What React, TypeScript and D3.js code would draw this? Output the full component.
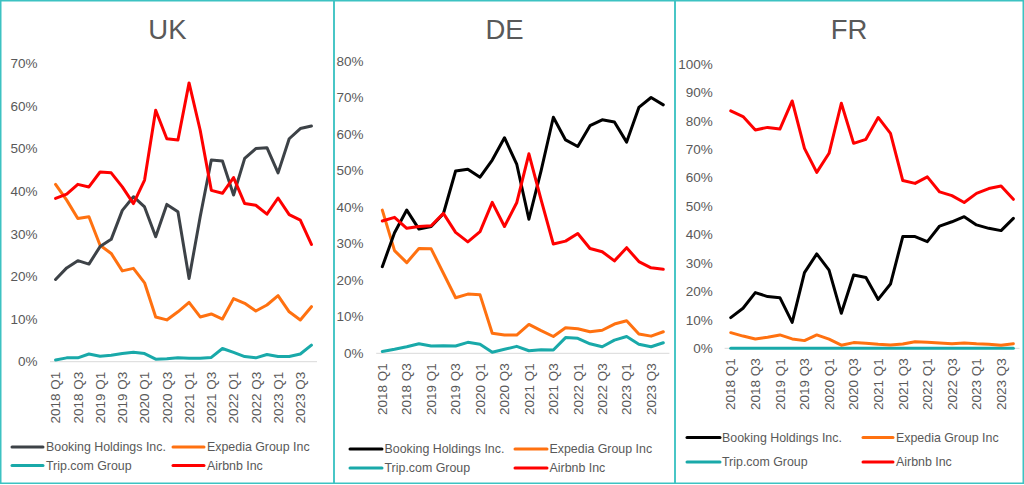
import React from "react";
import * as d3 from "d3";

// ---------- DATA ----------
const quarters = [
  "2018 Q1", "2018 Q2", "2018 Q3", "2018 Q4",
  "2019 Q1", "2019 Q2", "2019 Q3", "2019 Q4",
  "2020 Q1", "2020 Q2", "2020 Q3", "2020 Q4",
  "2021 Q1", "2021 Q2", "2021 Q3", "2021 Q4",
  "2022 Q1", "2022 Q2", "2022 Q3", "2022 Q4",
  "2023 Q1", "2023 Q2", "2023 Q3", "2023 Q4",
];
const tickQuarters = quarters.filter((q) => q.endsWith("Q1") || q.endsWith("Q3"));

const seriesNames = ["Booking Holdings Inc.", "Expedia Group Inc", "Trip.com Group", "Airbnb Inc"];

// UK (% share)
const ukBooking = [19.3, 22.0, 23.7, 22.9, 27.0, 28.7, 35.5, 38.7, 36.3, 29.3, 36.9, 35.2, 19.5, 34.0, 47.3, 47.1, 39.1, 47.7, 50.0, 50.2, 44.3, 52.3, 54.7, 55.3];
const ukExpedia = [41.6, 37.9, 33.6, 34.0, 27.3, 25.4, 21.3, 21.9, 18.5, 10.5, 9.8, 11.7, 13.9, 10.5, 11.2, 10.0, 14.8, 13.7, 11.9, 13.3, 15.5, 11.7, 9.8, 12.9];
const ukTrip = [0.4, 0.9, 0.9, 1.8, 1.3, 1.5, 1.9, 2.2, 1.9, 0.6, 0.7, 0.9, 0.8, 0.8, 1.0, 3.1, 2.2, 1.2, 0.9, 1.7, 1.2, 1.2, 1.8, 3.9];
const ukAirbnb = [38.3, 39.3, 41.6, 41.0, 44.5, 44.3, 41.0, 37.1, 42.6, 59.0, 52.3, 52.0, 65.4, 54.3, 40.2, 39.5, 43.2, 37.1, 36.7, 34.6, 38.4, 34.5, 33.2, 27.5];

// DE (% share)
const deBooking = [23.7, 33.0, 39.2, 34.0, 34.7, 38.2, 49.9, 50.4, 48.2, 52.9, 59.0, 51.8, 36.7, 50.0, 64.6, 58.4, 56.6, 62.3, 63.9, 63.3, 57.8, 67.3, 70.0, 68.0];
const deExpedia = [39.2, 28.1, 24.8, 28.7, 28.6, 21.9, 15.2, 16.2, 16.0, 5.5, 5.0, 5.0, 7.9, 6.2, 4.6, 7.0, 6.7, 5.9, 6.3, 8.0, 8.9, 5.3, 4.7, 5.9];
const deTrip = [0.5, 1.1, 1.8, 2.6, 2.0, 2.1, 2.0, 3.0, 2.5, 0.3, 1.1, 1.9, 0.7, 1.0, 0.9, 4.3, 4.1, 2.6, 1.8, 3.6, 4.6, 2.5, 1.8, 2.9];
const deAirbnb = [36.2, 37.2, 34.2, 34.7, 34.9, 38.3, 33.1, 30.5, 33.3, 41.3, 34.7, 41.2, 54.6, 42.0, 29.9, 30.7, 32.8, 28.7, 27.8, 25.3, 28.9, 25.1, 23.4, 23.0];

// FR (% share)
const frBooking = [10.8, 14.1, 19.6, 18.2, 17.8, 9.1, 26.6, 33.2, 27.5, 12.3, 25.8, 24.9, 17.2, 22.6, 39.3, 39.3, 37.5, 43.0, 44.5, 46.3, 43.4, 42.2, 41.4, 45.7];
const frExpedia = [5.5, 4.3, 3.3, 3.9, 4.7, 3.3, 2.7, 4.7, 3.2, 1.1, 2.0, 1.8, 1.4, 1.2, 1.5, 2.3, 2.1, 1.9, 1.6, 1.9, 1.6, 1.4, 1.1, 1.6];
const frTrip = [0, 0, 0, 0, 0, 0, 0, 0, 0, 0, 0, 0, 0, 0, 0, 0, 0, 0, 0, 0, 0, 0, 0, 0];
const frAirbnb = [83.5, 81.5, 76.8, 77.7, 77.1, 87.0, 70.3, 61.9, 68.6, 86.2, 72.1, 73.5, 81.2, 75.6, 59.0, 58.0, 60.3, 55.0, 53.7, 51.3, 54.5, 56.2, 57.1, 52.4];

const ukTicks = [0, 10, 20, 30, 40, 50, 60, 70];
const deTicks = [0, 10, 20, 30, 40, 50, 60, 70, 80];
const frTicks = [0, 10, 20, 30, 40, 50, 60, 70, 80, 90, 100];

// ---------- STYLE / LAYOUT ----------
const FONT = "'Liberation Sans', Arial, sans-serif";
const TEXT = "#595959";
const BORDER = "#3CC2C2";
const ORANGE = "#FF7110";
const TEAL = "#19A9A9";
const RED = "#FF0000";

type Panel = {
  title: string;
  frame: [number, number];
  plotX: [number, number];
  plotY: [number, number]; // [bottom, top]
  ticks: number[];
  tickRight: number;
  series: number[][];
  bookingColor: string;
  legendY: [number, number];
  legendX: [[number, number, number], [number, number, number]];
};

const panels: Panel[] = [
  {
    title: "UK",
    frame: [0.75, 334],
    plotX: [50, 317],
    plotY: [361.7, 63.3],
    ticks: ukTicks,
    tickRight: 37.5,
    series: [ukBooking, ukExpedia, ukTrip, ukAirbnb],
    bookingColor: "#3D4247",
    legendY: [447, 465.5],
    legendX: [[12, 43, 46], [173, 204, 207]],
  },
  {
    title: "DE",
    frame: [334, 675],
    plotX: [376.2, 669.4],
    plotY: [353.3, 61],
    ticks: deTicks,
    tickRight: 363.5,
    series: [deBooking, deExpedia, deTrip, deAirbnb],
    bookingColor: "#000000",
    legendY: [449, 468],
    legendX: [[350, 382, 384.5], [515, 547, 549.5]],
  },
  {
    title: "FR",
    frame: [675, 1023.25],
    plotX: [724.6, 1019.5],
    plotY: [348.3, 64],
    ticks: frTicks,
    tickRight: 712.7,
    series: [frBooking, frExpedia, frTrip, frAirbnb],
    bookingColor: "#000000",
    legendY: [437.5, 462],
    legendX: [[687, 720, 722], [863, 893, 896]],
  },
];

function PanelView({ p }: { p: Panel }) {
  const x = d3.scaleBand<string>().domain(quarters).range(p.plotX).padding(0);
  const yMax = p.ticks[p.ticks.length - 1];
  const y = d3.scaleLinear().domain([0, yMax]).range(p.plotY);
  const cx = (q: string) => (x(q) as number) + x.bandwidth() / 2;
  const line = d3
    .line<number>()
    .x((_, i) => cx(quarters[i]))
    .y((d) => y(d));
  const colors = [p.bookingColor, ORANGE, TEAL, RED];
  const midX = (p.frame[0] + p.frame[1]) / 2;
  const drawOrder = [2, 1, 0, 3];

  return (
    <g>
      <rect
        x={p.frame[0]}
        y={0.75}
        width={p.frame[1] - p.frame[0]}
        height={482.5}
        fill="none"
        stroke={BORDER}
        strokeWidth={1.5}
      />
      <text x={midX} y={38.5} textAnchor="middle" fontSize={27.5} fill={TEXT} fontFamily={FONT}>
        {p.title}
      </text>
      {p.ticks.map((t) => (
        <text
          key={t}
          x={p.tickRight}
          y={y(t)}
          dy="0.35em"
          textAnchor="end"
          fontSize={13.5}
          fill={TEXT}
          fontFamily={FONT}
        >
          {t + "%"}
        </text>
      ))}
      <line x1={p.plotX[0]} x2={p.plotX[1]} y1={y(0)} y2={y(0)} stroke="#D9D9D9" strokeWidth={1} />
      {tickQuarters.map((q) => (
        <text
          key={q}
          transform={`translate(${cx(q)},${y(0) + 10}) rotate(-90)`}
          dy="0.35em"
          textAnchor="end"
          fontSize={13.5}
          fill={TEXT}
          fontFamily={FONT}
        >
          {q}
        </text>
      ))}
      {drawOrder.map((si) => (
        <path
          key={si}
          d={line(p.series[si]) || ""}
          fill="none"
          stroke={colors[si]}
          strokeWidth={3}
          strokeLinejoin="round"
          strokeLinecap="round"
        />
      ))}
      {seriesNames.map((name, si) => {
        const row = si < 2 ? 0 : 1;
        const col = si % 2;
        const [lx1, lx2, tx] = p.legendX[col];
        const ly = p.legendY[row];
        return (
          <g key={name}>
            <line x1={lx1} x2={lx2} y1={ly} y2={ly} stroke={colors[si]} strokeWidth={3} strokeLinecap="round" />
            <text x={tx} y={ly} dy="0.35em" fontSize={12.4} fill={TEXT} fontFamily={FONT}>
              {name}
            </text>
          </g>
        );
      })}
    </g>
  );
}

export default function App() {
  return (
    <svg
      width={1024}
      height={485}
      style={{ position: "absolute", left: 0, top: 0, background: "#fff" }}
    >
      <rect x={0} y={0} width={1024} height={485} fill="#fff" />
      {panels.map((p) => (
        <PanelView key={p.title} p={p} />
      ))}
    </svg>
  );
}
